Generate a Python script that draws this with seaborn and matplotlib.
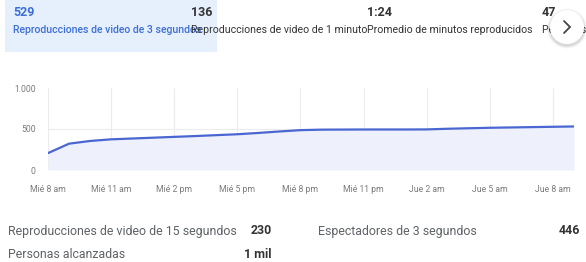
import numpy as np
import pandas as pd
import matplotlib
matplotlib.use("Agg")
import matplotlib.pyplot as plt
from matplotlib.patches import Rectangle, Circle
import seaborn as sns

# hourly cumulative 3-second views, Wed 8 am -> Thu 9 am
hours = list(range(26))
views = [206, 321, 354, 374, 384, 394, 404, 414, 425, 436, 452, 470, 486,
         492, 493, 494, 494, 494, 495, 503, 509, 515, 519, 523, 527, 531]
tick_hours = [0, 3, 6, 9, 12, 15, 18, 21, 24]
tick_labels = ["Mié 8 am", "Mié 11 am", "Mié 2 pm", "Mié 5 pm", "Mié 8 pm",
               "Mié 11 pm", "Jue 2 am", "Jue 5 am", "Jue 8 am"]
y_ticks = [0, 500, 1000]
y_labels = ["0", "500", "1.000"]

top_values = ["529", "136", "1:24", "47"]
top_labels = ["Reproducciones de video de 3 segundos",
              "Reproducciones de video de 1 minuto",
              "Promedio de minutos reproducidos",
              "Personas alcanzadas"]
bottom_labels = ["Reproducciones de video de 15 segundos", "Personas alcanzadas",
                 "Espectadores de 3 segundos"]
bottom_values = ["230", "1 mil", "446"]

df = pd.DataFrame({"hour": hours, "views": views})

sns.set_theme(style="white")
plt.rcParams["font.family"] = ["Roboto", "DejaVu Sans"]

W, H = 586, 262
fig = plt.figure(figsize=(W / 100, H / 100), dpi=100)
fig.patch.set_facecolor("white")

BLUE = "#3d6fd6"
LINE = "#4a66d0"
DARK = "#333333"
GRAY = "#5f6368"

# chart
ax = fig.add_axes([48 / W, (H - 170) / H, 526 / W, 82 / H])
ax.fill_between(df["hour"], df["views"], 0, color="#eef0fb", lw=0)
sns.lineplot(data=df, x="hour", y="views", ax=ax, color=LINE, lw=1.6)
ax.set_xlim(0, 25)
ax.set_ylim(0, 1000)
ax.set_xticks(tick_hours)
ax.set_xticklabels(tick_labels)
ax.set_yticks(y_ticks)
ax.set_yticklabels(y_labels)
ax.tick_params(axis="both", length=0, labelsize=6.2, labelcolor="#7a7a7a")
ax.tick_params(axis="x", pad=11)
ax.tick_params(axis="y", pad=9)
for h in tick_hours:
    ax.axvline(h, color="#ececec", lw=0.8, zorder=0)
ax.axhline(500, color="#ececec", lw=0.8, zorder=0)
ax.axhline(0, color="#e4e4e4", lw=0.8, zorder=0)
ax.set_xlabel("")
ax.set_ylabel("")
for s in ax.spines.values():
    s.set_visible(False)

# overlay in pixel coordinates for the header and stats
ov = fig.add_axes([0, 0, 1, 1], zorder=-1)
ov.set_xlim(0, W)
ov.set_ylim(H, 0)
ov.axis("off")
ov.patch.set_alpha(0)

cols = [13, 191, 367, 542]
ov.add_patch(Rectangle((5, 0), 212, 52, facecolor="#e6f0fd", edgecolor="none", zorder=0))
for i, (v, lab) in enumerate(zip(top_values, top_labels)):
    c = BLUE if i == 0 else DARK
    w = "medium" if i == 0 else "normal"
    ov.text(cols[i], 13, v, color=c, fontsize=9, fontweight="bold", va="center", zorder=3)
    ov.text(cols[i], 30, lab, color=c, fontsize=7.6, fontweight=w, va="center", zorder=3)

# next button
for r, a in [(20, 0.03), (19, 0.05), (18, 0.07)]:
    ov.add_patch(Circle((567, 28.5), r, facecolor="black", alpha=a, edgecolor="none", zorder=5))
ov.add_patch(Circle((567, 27), 17, facecolor="white", edgecolor="none", zorder=6))
ov.plot([564, 570, 564], [21, 27, 33], color="#444444", lw=1.3, zorder=7,
        solid_capstyle="round", solid_joinstyle="miter")

# bottom stats
ov.text(8, 231, bottom_labels[0], color=GRAY, fontsize=8.9, va="center")
ov.text(272, 231, bottom_values[0], color=DARK, fontsize=8.9, fontweight="bold", va="center", ha="right")
ov.text(8, 254, bottom_labels[1], color=GRAY, fontsize=8.9, va="center")
ov.text(272, 254, bottom_values[1], color=DARK, fontsize=8.9, fontweight="bold", va="center", ha="right")
ov.text(318, 231, bottom_labels[2], color=GRAY, fontsize=8.9, va="center")
ov.text(580, 231, bottom_values[2], color=DARK, fontsize=8.9, fontweight="bold", va="center", ha="right")

fig.savefig("out.png", dpi=100, facecolor="white")
